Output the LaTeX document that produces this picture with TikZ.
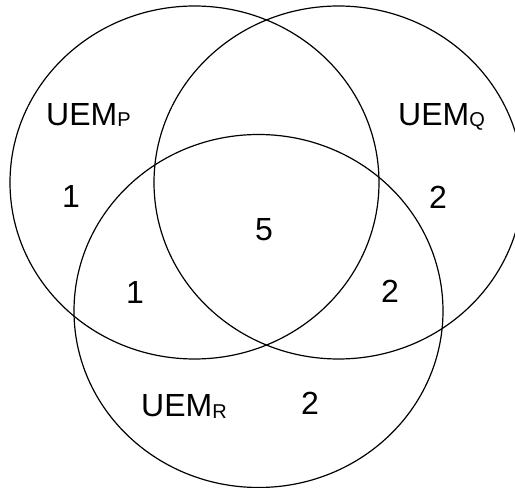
\documentclass[tikz,border=0pt]{standalone}
\usepackage{fontspec}
\setmainfont{Liberation Sans}
\usetikzlibrary{positioning}
\definecolor{Ink}{HTML}{000000}
\newcommand{\setsub}[1]{\raisebox{-1.5pt}{\fontsize{20}{20}\selectfont #1}}

\begin{document}
\begin{tikzpicture}[x=1pt,y=1pt,
    set/.style={Ink,line width=1.2pt},
    lab/.style={Ink,font=\fontsize{32}{38}\selectfont,inner sep=0pt}]
  \useasboundingbox (0,0) rectangle (515,488);
  \def\rx{184.5}
  \def\ry{176.5}
  \foreach \n/\cx/\cy in {P/194.5/305.5, Q/338.5/305.5, R/258.5/177} {
    \coordinate (c\n) at (\cx,\cy);
    \draw[set] (c\n) ellipse [x radius=\rx pt, y radius=\ry pt];
  }
  % set names
  \node[lab,anchor=base west] (nameP) at (46,362.5) {UEM\setsub{P}};
  \node[lab,anchor=base west] (nameQ) at (398,362.5) {UEM\setsub{Q}};
  \node[lab,anchor=base west] (nameR) at (141,71) {UEM\setsub{R}};
  % counts
  \node[lab] (onlyP) at (71,292) {1};
  \node[lab] (onlyQ) at (438,291) {2};
  \node[lab] (allPQR) at (264,258) {5};
  \node[lab] (PR) at (135,196) {1};
  \node[lab] (QR) at (390,197) {2};
  \node[lab] (onlyR) at (310,85) {2};
\end{tikzpicture}
\end{document}
